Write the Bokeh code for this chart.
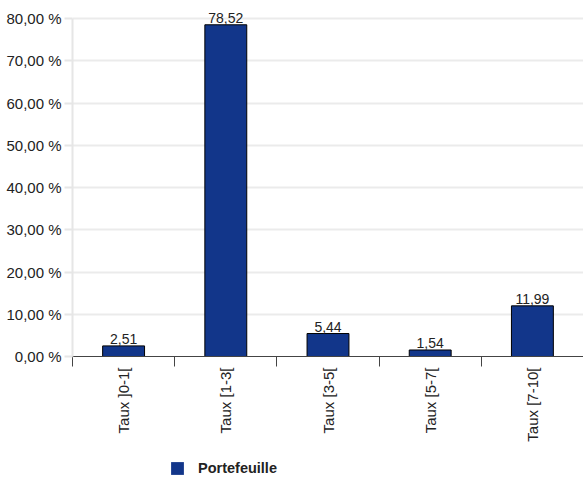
from bokeh.plotting import figure
from bokeh.layouts import column
from bokeh.models import ColumnDataSource, FixedTicker, Range1d, Legend, LegendItem
from bokeh.core.properties import value
from bokeh.embed import file_html
from bokeh.resources import INLINE
import math

categories = ["Taux ]0-1[", "Taux [1-3[", "Taux [3-5[", "Taux [5-7[", "Taux [7-10["]
values = [2.51, 78.52, 5.44, 1.54, 11.99]
value_labels = ["2,51", "78,52", "5,44", "1,54", "11,99"]
y_ticks = [0, 10, 20, 30, 40, 50, 60, 70, 80]
y_tick_labels = ["0,00 %", "10,00 %", "20,00 %", "30,00 %", "40,00 %", "50,00 %", "60,00 %", "70,00 %", "80,00 %"]
series_name = "Portefeuille"

FONT = "Liberation Sans"
BLUE = "#12368a"
TXT = "#222222"
W = 583

xpos = [i + 0.5 for i in range(len(categories))]
src = ColumnDataSource(dict(x=xpos, top=values, lab=value_labels))

p = figure(width=W, height=450, output_backend="svg", toolbar_location=None,
           x_range=Range1d(0, len(categories)), y_range=Range1d(0, 84.27),
           min_border_left=72, min_border_right=0, min_border_top=0, min_border_bottom=94)
p.outline_line_color = None
p.background_fill_color = "white"

r = p.vbar(x="x", top="top", width=0.41, bottom=0, source=src,
           fill_color=BLUE, line_color="#000000", line_width=1)
p.text(x="x", y="top", text="lab", source=src, text_align="center", text_baseline="bottom",
       y_offset=-2, text_font=value(FONT), text_font_size="14px", text_color=TXT)

# x axis
p.xaxis.ticker = FixedTicker(ticks=xpos, minor_ticks=list(range(len(categories) + 1)))
p.xaxis.major_label_overrides = {x: c for x, c in zip(xpos, categories)}
p.xaxis.major_label_orientation = math.pi / 2
p.xaxis.major_tick_line_color = None
p.xaxis.major_tick_out = 10
p.xaxis.major_tick_in = 0
p.xaxis.minor_tick_line_color = "#444444"
p.xaxis.minor_tick_out = 10
p.xaxis.minor_tick_in = 0
p.xaxis.axis_line_color = "#444444"
p.xaxis.major_label_text_font = FONT
p.xaxis.major_label_text_font_size = "15px"
p.xaxis.major_label_text_color = TXT
p.xaxis.major_label_standoff = 1
p.xgrid.grid_line_color = None

# y axis
p.yaxis.ticker = FixedTicker(ticks=y_ticks, minor_ticks=[])
p.yaxis.bounds = (0, 80)
p.yaxis.major_label_overrides = {t: l for t, l in zip(y_ticks, y_tick_labels)}
p.yaxis.axis_line_color = "#e6e6e6"
p.yaxis.axis_line_width = 2
p.yaxis.major_tick_line_color = "#e6e6e6"
p.yaxis.major_tick_line_width = 2
p.yaxis.major_tick_out = 8
p.yaxis.major_tick_in = 0
p.yaxis.major_label_standoff = 3
p.yaxis.major_label_text_font = FONT
p.yaxis.major_label_text_font_size = "15px"
p.yaxis.major_label_text_color = TXT
p.ygrid.grid_line_color = "#ebebeb"
p.ygrid.grid_line_width = 2
p.ygrid.bounds = (0, 80)

# legend strip (its bar renderer lies outside the visible y range; only the legend shows)
lg = figure(width=W, height=26, output_backend="svg", toolbar_location=None,
            x_range=Range1d(0, len(categories)), y_range=Range1d(100, 101),
            x_axis_location=None, y_axis_location=None,
            min_border_left=72, min_border_right=0, min_border_top=0, min_border_bottom=0)
lg.outline_line_color = None
lg.xgrid.grid_line_color = None
lg.ygrid.grid_line_color = None
lr = lg.vbar(x="x", top="top", width=0.41, bottom=0, source=src,
             fill_color=BLUE, line_color=None)
legend = Legend(items=[LegendItem(label=series_name, renderers=[lr])],
                location=(97, 0), orientation="horizontal",
                glyph_width=16, glyph_height=16, label_standoff=13,
                padding=0, margin=0, border_line_color=None, background_fill_alpha=0,
                label_text_font=FONT, label_text_font_size="14.5px",
                label_text_font_style="bold", label_text_color=TXT)
lg.add_layout(legend, "center")

layout = column(p, lg, spacing=0)
open("out.html", "w").write(file_html(layout, INLINE))
